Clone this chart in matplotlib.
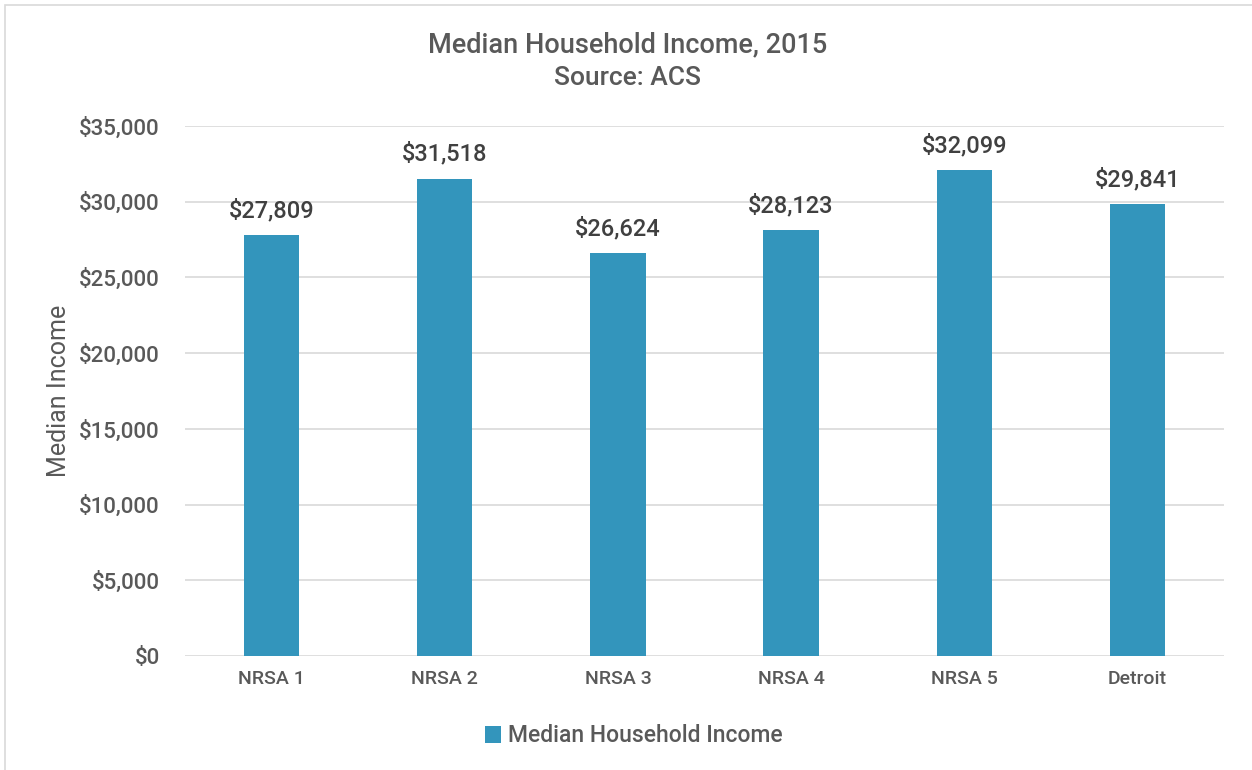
import matplotlib.pyplot as plt
from matplotlib.patches import Rectangle
from matplotlib.ticker import FuncFormatter

plt.rcParams['font.family'] = ['Roboto', 'DejaVu Sans']
plt.rcParams['font.weight'] = 'medium'

# Данные
areas = ['NRSA 1', 'NRSA 2', 'NRSA 3', 'NRSA 4', 'NRSA 5', 'Detroit']
income = [27809, 31518, 26624, 28123, 32099, 29841]
y_ticks = [0, 5000, 10000, 15000, 20000, 25000, 30000, 35000]

text_color = '#595959'
bar_color = '#3395BC'

fig = plt.figure(figsize=(12.52, 7.70), dpi=100)
ax = fig.add_axes([185 / 1252, 1 - 656 / 770, (1224 - 185) / 1252, (656 - 126) / 770])

# рамка вокруг диаграммы
fig.patches.append(Rectangle((5 / 1252, -0.01), 1.1, 1 - 5 / 770 + 0.01, transform=fig.transFigure,
                             fill=False, edgecolor='#d9d9d9', linewidth=1.2))

x = range(len(areas))
bars = ax.bar(x, income, width=0.32, color=bar_color, zorder=3,
              label='Median Household Income')

for bar, val in zip(bars, income):
    ax.text(bar.get_x() + bar.get_width() / 2, val + 850, f'${val:,}',
            ha='center', va='bottom', fontsize=17, color='#404040')

ax.set_xlim(-0.5, len(areas) - 0.5)
ax.set_ylim(0, 35000)
ax.set_yticks(y_ticks)
ax.yaxis.set_major_formatter(FuncFormatter(lambda v, p: f'${int(v):,}'))
ax.set_xticks(list(x))
ax.set_xticklabels(areas)
ax.tick_params(axis='both', length=0, colors=text_color)
ax.tick_params(axis='y', pad=18, labelsize=16)
ax.tick_params(axis='x', pad=10, labelsize=14)
ax.grid(True, axis='y', color='#d9d9d9', linewidth=1.2, zorder=0)
for s in ax.spines.values():
    s.set_visible(False)

ax.set_ylabel('Median Income', fontsize=18, color=text_color, labelpad=6)

fig.text((425 + 831) / 2 / 1252, 1 - 45 / 770, 'Median Household Income, 2015',
         ha='center', va='center', fontsize=19.5, color=text_color)
fig.text((425 + 831) / 2 / 1252, 1 - 78 / 770, 'Source: ACS',
         ha='center', va='center', fontsize=19, color=text_color)

fig.legend(loc='center', bbox_to_anchor=(634 / 1252, 1 - 736 / 770), frameon=False,
           fontsize=16.5, labelcolor=text_color, handlelength=0.7, handleheight=0.7,
           handletextpad=0.3)

fig.savefig('out.png', dpi=100)
